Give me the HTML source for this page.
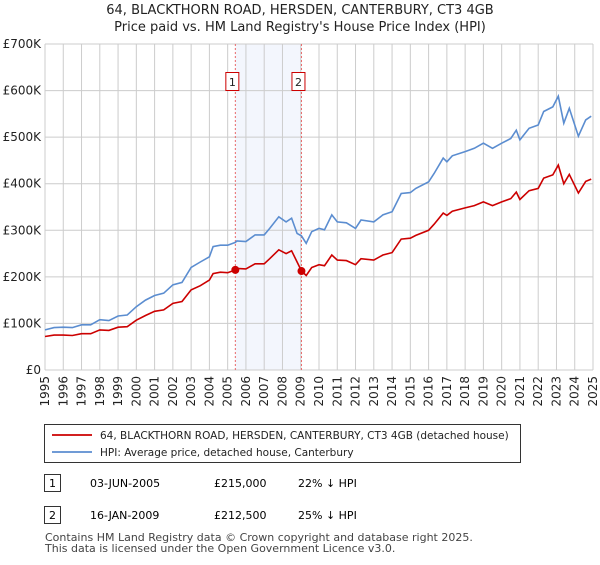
<!DOCTYPE html>
<html><head><meta charset="utf-8"><style>
body{margin:0;background:#fff;font-family:"Liberation Sans","DejaVu Sans",sans-serif;}
svg text{font-family:"DejaVu Sans","Liberation Sans",sans-serif;}
</style></head><body>
<svg width="600" height="560" viewBox="0 0 600 560" xmlns="http://www.w3.org/2000/svg">
<text x="300" y="14" text-anchor="middle" font-size="13" fill="#222">64, BLACKTHORN ROAD, HERSDEN, CANTERBURY, CT3 4GB</text>
<text x="300" y="31" text-anchor="middle" font-size="13" fill="#222">Price paid vs. HM Land Registry's House Price Index (HPI)</text>
<g id="plot"></g>
<g>
<rect x="44.5" y="424.5" width="476" height="38" fill="#fff" stroke="#333"/>
<line x1="52" y1="435" x2="92" y2="435" stroke="#cc0000" stroke-width="1.8"/>
<text x="100" y="439" font-size="10.5" fill="#222">64, BLACKTHORN ROAD, HERSDEN, CANTERBURY, CT3 4GB (detached house)</text>
<line x1="52" y1="452" x2="92" y2="452" stroke="#5b8dd0" stroke-width="1.8"/>
<text x="100" y="456" font-size="10.5" fill="#222">HPI: Average price, detached house, Canterbury</text>
</g>
<g>
<rect x="44.5" y="474.5" width="16" height="17" fill="#fff" stroke="#333"/>
<text x="52.5" y="487" text-anchor="middle" font-size="11">1</text>
<text x="90" y="487" font-size="11">03-JUN-2005</text>
<text x="214" y="487" font-size="11">£215,000</text>
<text x="298" y="487" font-size="11">22% ↓ HPI</text>
<rect x="44.5" y="506.5" width="16" height="17" fill="#fff" stroke="#333"/>
<text x="52.5" y="519" text-anchor="middle" font-size="11">2</text>
<text x="90" y="519" font-size="11">16-JAN-2009</text>
<text x="214" y="519" font-size="11">£212,500</text>
<text x="298" y="519" font-size="11">25% ↓ HPI</text>
</g>
<text x="45" y="541" font-size="11" fill="#444">Contains HM Land Registry data © Crown copyright and database right 2025.</text>
<text x="45" y="552" font-size="11" fill="#444">This data is licensed under the Open Government Licence v3.0.</text>
</svg>
<script>
const times=[1995,1995.5,1996,1996.5,1997,1997.5,1998,1998.5,1999,1999.5,2000,2000.5,2001,2001.5,2002,2002.5,2003,2003.5,2004,2004.2,2004.6,2005,2005.42,2005.5,2006,2006.5,2007,2007.3,2007.8,2008.2,2008.5,2008.8,2009.04,2009.3,2009.6,2010,2010.3,2010.7,2011,2011.5,2012,2012.3,2013,2013.5,2014,2014.5,2015,2015.3,2016,2016.3,2016.8,2017,2017.3,2018,2018.5,2019,2019.5,2020,2020.5,2020.8,2021,2021.5,2022,2022.3,2022.8,2023.1,2023.4,2023.7,2024.2,2024.6,2024.9];
const hpi=[86,91,92,91,97,97,108,106,116,118,136,150,160,165,183,188,220,232,243,265,268,268,274,277,276,290,290,304,329,318,326,293,288,272,297,304,301,333,318,316,304,322,318,333,340,379,381,390,404,422,455,447,460,469,476,487,476,487,497,515,494,519,526,555,565,588,530,562,502,537,545];
const price=[72,75,75,74,78,78,86,85,92,93,107,117,126,129,143,147,172,181,193,207,210,209,215,218,217,228,228,239,258,250,256,232,212.5,203,220,226,224,247,236,235,226,239,236,247,252,281,283,289,300,313,337,332,341,348,353,361,353,361,368,382,366,385,390,412,419,440,400,420,380,405,410];
const saleTimes=[2005.42,2009.04];
const salePrices=[215,212.5];
const saleLabels=["1","2"];
const yTicks=[0,100,200,300,400,500,600,700];
const yTickLabels=["£0","£100K","£200K","£300K","£400K","£500K","£600K","£700K"];
const xYears=[1995,1996,1997,1998,1999,2000,2001,2002,2003,2004,2005,2006,2007,2008,2009,2010,2011,2012,2013,2014,2015,2016,2017,2018,2019,2020,2021,2022,2023,2024,2025];

const X0=45,X1=593,Y0=370,Y1=44;
const xs=t=>X0+(t-1995)/30*(X1-X0);
const ys=v=>Y0-v/700*(Y0-Y1);
const NS="http://www.w3.org/2000/svg";
const g=document.getElementById('plot');
function mk(tag,attrs){const e=document.createElementNS(NS,tag);for(const k in attrs)e.setAttribute(k,attrs[k]);g.appendChild(e);return e;}

let sh=mk('rect',{x:xs(saleTimes[0]),y:Y1,width:xs(saleTimes[1])-xs(saleTimes[0]),height:Y0-Y1,fill:'#f3f6fd'});


xYears.forEach(yr=>{
 let l=mk('line',{x1:xs(yr),x2:xs(yr),y1:Y1,y2:Y0,stroke:'#ccc','stroke-width':1});
 
 
 let t=mk('text',{x:0,y:0,'font-size':12,fill:'#222','text-anchor':'end',transform:`translate(${xs(yr)+4},${Y0+6}) rotate(-90)`});
 t.textContent=yr;
 
 
});
yTicks.forEach((v,i)=>{
 let l=mk('line',{x1:X0,x2:X1,y1:ys(v),y2:ys(v),stroke:'#ccc','stroke-width':1});
 
 
 let t=mk('text',{x:X0-4,y:ys(v)+4,'font-size':12,fill:'#222','text-anchor':'end'});
 t.textContent=yTickLabels[i];
 
 
});
saleTimes.forEach((st,i)=>{
 let l=mk('line',{x1:xs(st),x2:xs(st),y1:Y1,y2:Y0,stroke:'#e86a6a','stroke-width':1,'stroke-dasharray':'2,2'});
 
 
 let r=mk('rect',{x:xs(st)-9.5,y:72.5,width:13,height:18,fill:'#fff',stroke:'#cc0000'});
 
 
 let t=mk('text',{x:xs(st)-3,y:86,'font-size':11,'text-anchor':'middle',fill:'#222'});
 t.textContent=saleLabels[i];
 
 
});
const pth=arr=>arr.map((v,i)=>(i?'L':'M')+xs(times[i]).toFixed(1)+','+ys(v).toFixed(1)).join('');
let hl=mk('path',{d:pth(hpi),fill:'none',stroke:'#5b8dd0','stroke-width':1.6});


let pl=mk('path',{d:pth(price),fill:'none',stroke:'#cc0000','stroke-width':1.6});


saleTimes.forEach((st,i)=>{
 let c=mk('circle',{cx:xs(st),cy:ys(salePrices[i]),r:4,fill:'#cc0000'});
 
 
});
</script>
</body></html>
